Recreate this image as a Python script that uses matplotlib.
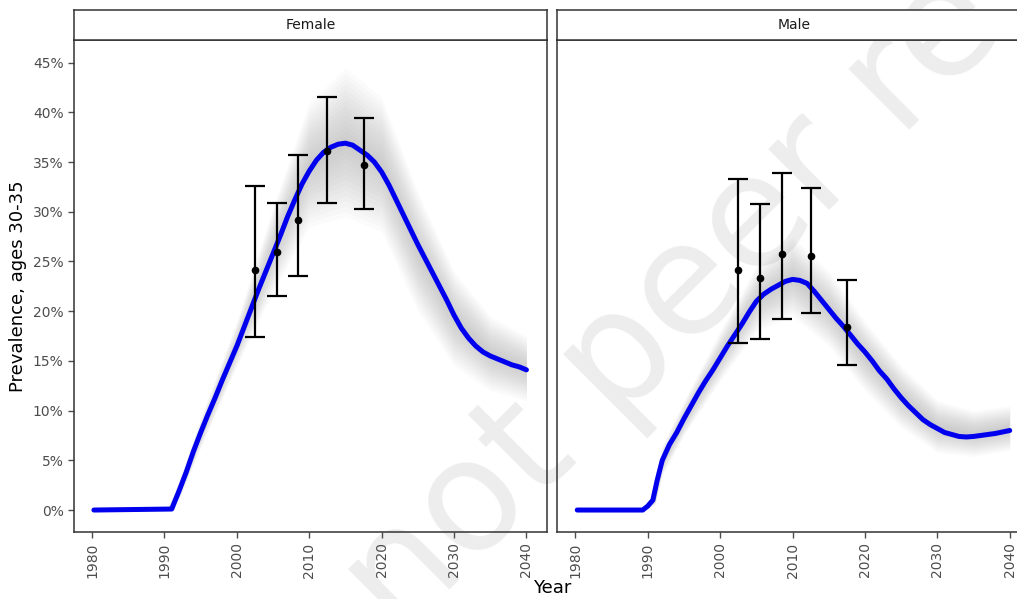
import numpy as np
import matplotlib
matplotlib.use("Agg")
import matplotlib.pyplot as plt

# central model estimate (% prevalence, ages 30-35)
fem_years = [1980.25, 1991.0, 1992, 1993, 1994, 1995, 1996, 1997, 1998, 1999, 2000,
             2001, 2002, 2003, 2004, 2005, 2006, 2007, 2008, 2009, 2010,
             2011, 2012, 2013, 2014, 2015, 2016, 2017, 2018, 2019, 2020,
             2021, 2022, 2023, 2024, 2025, 2026, 2027, 2028, 2029, 2030,
             2031, 2032, 2033, 2034, 2035, 2036, 2037, 2038, 2039, 2040]
fem_prev = [0, 0.1, 1.9, 3.8, 5.9, 7.8, 9.6, 11.3, 13.1, 14.8, 16.5,
            18.4, 20.3, 22.2, 24.0, 25.8, 27.6, 29.5, 31.2, 32.8, 34.1,
            35.2, 36.0, 36.5, 36.8, 36.9, 36.7, 36.2, 35.7, 35.0, 34.0,
            32.7, 31.2, 29.7, 28.2, 26.7, 25.3, 23.9, 22.5, 21.1, 19.6,
            18.3, 17.3, 16.5, 15.9, 15.5, 15.2, 14.9, 14.6, 14.4, 14.1]

male_years = [1980.25, 1989.3, 1990.0, 1990.7, 1991.3, 1992, 1993, 1994, 1995, 1996, 1997,
              1998, 1999, 2000, 2001, 2002, 2003, 2004, 2005, 2006, 2007,
              2008, 2009, 2010, 2011, 2012, 2013, 2014, 2015, 2016, 2017,
              2018, 2019, 2020, 2021, 2022, 2023, 2024, 2025, 2026, 2027,
              2028, 2029, 2030, 2031, 2032, 2033, 2034, 2035, 2036, 2037,
              2038, 2039, 2040]
male_prev = [0, 0, 0.4, 1.0, 3.0, 5.0, 6.6, 7.8, 9.2, 10.5, 11.8,
             13.0, 14.1, 15.3, 16.5, 17.6, 18.7, 19.9, 21.0, 21.7, 22.2,
             22.6, 23.0, 23.2, 23.1, 22.8, 22.0, 21.1, 20.2, 19.3, 18.5,
             17.6, 16.7, 15.9, 15.0, 14.0, 13.2, 12.2, 11.3, 10.5, 9.8,
             9.1, 8.6, 8.2, 7.8, 7.6, 7.4, 7.35, 7.4, 7.5, 7.6,
             7.7, 7.85, 8.0]

# spread of the posterior sample trajectories (outer edge)
fem_band_years = [1980.25, 1990.5, 1992, 1995, 2000, 2005, 2010, 2015, 2020, 2025, 2030, 2035, 2040]
fem_band_lo = [0, 0, 1.0, 6.3, 14.5, 22.0, 28.5, 29.5, 28.0, 20.0, 14.5, 12.0, 11.0]
fem_band_hi = [0, 0.3, 3.0, 9.3, 19.0, 30.5, 41.0, 44.5, 41.5, 32.0, 24.0, 19.5, 17.5]

male_band_years = [1980.25, 1989.5, 1991, 1992, 1995, 2000, 2005, 2010, 2015, 2020, 2025, 2030, 2035, 2040]
male_band_lo = [0, 0, 0.5, 3.5, 7.5, 13.0, 18.0, 19.5, 16.5, 12.0, 8.3, 5.8, 5.4, 6.0]
male_band_hi = [0, 0.2, 1.8, 6.5, 11.0, 18.0, 24.5, 27.5, 24.0, 19.0, 14.5, 11.0, 10.0, 10.5]

# survey observations with 95% CI
obs_years = [2002.5, 2005.5, 2008.5, 2012.5, 2017.5]
fem_obs = [24.1, 26.0, 29.2, 36.1, 34.7]
fem_lo = [17.4, 21.5, 23.5, 30.9, 30.3]
fem_hi = [32.6, 30.9, 35.7, 41.5, 39.4]
male_obs = [24.1, 23.3, 25.8, 25.6, 18.4]
male_lo = [16.8, 17.2, 19.2, 19.8, 14.6]
male_hi = [33.3, 30.8, 33.9, 32.4, 23.1]

W, H = 1017, 599
fig = plt.figure(figsize=(W / 100, H / 100), dpi=100)
fig.patch.set_facecolor("white")

# preprint watermark
fig.text(400 / W, 1 - 640 / H, "not peer reviewed", rotation=45, rotation_mode="anchor",
         ha="left", va="baseline", fontsize=112, color="#EDEDED", zorder=0)

panels = [
    ("Female", 74, fem_years, fem_prev, fem_band_years, fem_band_lo, fem_band_hi,
     fem_obs, fem_lo, fem_hi),
    ("Male", 557.3, male_years, male_prev, male_band_years, male_band_lo, male_band_hi,
     male_obs, male_lo, male_hi),
]
pw = 472.7
ptop, pbot = 40, 532
edge = "#333333"

for i, (name, x0, yrs, prev, byrs, blo, bhi, obs, lo, hi) in enumerate(panels):
    ax = fig.add_axes([x0 / W, 1 - pbot / H, pw / W, (pbot - ptop) / H], zorder=1)
    ax.set_facecolor("none")

    blo = np.array(blo)
    bhi = np.array(bhi)
    mid = (blo + bhi) / 2
    half = (bhi - blo) / 2
    n = 14
    for k in range(n):
        f = 1 - k / n
        ax.fill_between(byrs, mid - f * half, mid + f * half, color="#808080",
                        alpha=0.032, linewidth=0)

    ax.plot(yrs, prev, color="#0000ee", lw=3.6, solid_capstyle="round",
            solid_joinstyle="round", zorder=3)
    ax.errorbar(obs_years, obs, yerr=[np.array(obs) - np.array(lo), np.array(hi) - np.array(obs)],
                fmt="o", color="black", ms=4.5, elinewidth=1.6, capsize=7, capthick=1.6, zorder=4)

    ax.set_xlim(1977.5, 2042.8)
    ax.set_ylim(-2.21, 47.28)
    ax.set_xticks(range(1980, 2041, 10))
    ax.set_xticklabels([str(t) for t in range(1980, 2041, 10)], rotation=90)
    ax.set_yticks(range(0, 46, 5))
    ax.set_yticklabels([f"{v}%" for v in range(0, 46, 5)])
    ax.tick_params(colors="#4d4d4d", labelcolor="#4d4d4d", labelsize=10, length=4, width=1)
    if i == 1:
        ax.tick_params(axis="y", left=False, labelleft=False)
    for s in ax.spines.values():
        s.set_color(edge)
        s.set_linewidth(1.1)

    sax = fig.add_axes([x0 / W, 1 - ptop / H, pw / W, 30 / H], zorder=1)
    sax.set_xticks([])
    sax.set_yticks([])
    sax.set_facecolor("white")
    for s in sax.spines.values():
        s.set_color(edge)
        s.set_linewidth(1.1)
    sax.text(0.5, 0.5, name, transform=sax.transAxes, ha="center", va="center",
             fontsize=10, color="#1a1a1a")

fig.text(552 / W, 1 - 588 / H, "Year", ha="center", va="center", fontsize=13)
fig.text(18 / W, 1 - 286 / H, "Prevalence, ages 30-35", rotation=90,
         ha="center", va="center", fontsize=13)

fig.savefig("out.png", dpi=100)
